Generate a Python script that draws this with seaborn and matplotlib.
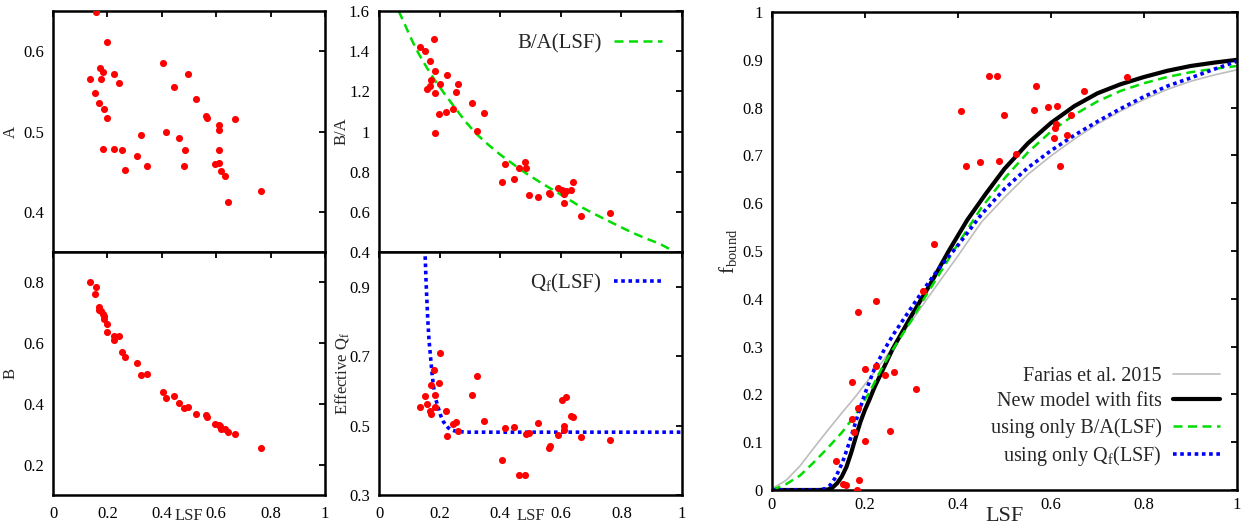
import matplotlib
matplotlib.use("Agg")
import matplotlib.pyplot as plt
import seaborn as sns

# ---------------- data ----------------
# panel A(LSF)
A_lsf = [0.158, 0.199, 0.136, 0.171, 0.185, 0.175, 0.223, 0.244, 0.153, 0.169,
         0.187, 0.200, 0.183, 0.223, 0.255, 0.264, 0.308, 0.325, 0.347, 0.405,
         0.417, 0.445, 0.498, 0.465, 0.487, 0.482, 0.525, 0.563, 0.567, 0.611,
         0.610, 0.609, 0.670, 0.595, 0.609, 0.618, 0.634, 0.643, 0.764]
A_val = [0.649, 0.612, 0.565, 0.579, 0.574, 0.565, 0.572, 0.560, 0.548, 0.536,
         0.528, 0.517, 0.478, 0.478, 0.477, 0.452, 0.469, 0.496, 0.457, 0.585,
         0.499, 0.556, 0.571, 0.492, 0.477, 0.457, 0.541, 0.519, 0.517, 0.508,
         0.502, 0.477, 0.516, 0.459, 0.461, 0.451, 0.445, 0.412, 0.426]

# panel B(LSF)
B_lsf = [0.135, 0.158, 0.153, 0.169, 0.169, 0.178, 0.184, 0.187, 0.189, 0.199,
         0.200, 0.223, 0.225, 0.243, 0.254, 0.264, 0.307, 0.324, 0.347, 0.405,
         0.417, 0.445, 0.465, 0.482, 0.497, 0.525, 0.564, 0.567, 0.595, 0.609,
         0.613, 0.618, 0.634, 0.643, 0.670, 0.764]
B_val = [0.801, 0.784, 0.763, 0.720, 0.709, 0.705, 0.696, 0.689, 0.681, 0.663,
         0.637, 0.624, 0.610, 0.623, 0.570, 0.555, 0.534, 0.496, 0.499, 0.440,
         0.419, 0.425, 0.403, 0.388, 0.391, 0.366, 0.362, 0.356, 0.333, 0.331,
         0.326, 0.316, 0.318, 0.309, 0.302, 0.255]

# panel B/A(LSF)
BA_lsf = [0.135, 0.152, 0.181, 0.169, 0.185, 0.173, 0.168, 0.157, 0.184, 0.200,
          0.223, 0.261, 0.254, 0.197, 0.222, 0.243, 0.184, 0.308, 0.345, 0.323,
          0.405, 0.415, 0.444, 0.463, 0.482, 0.485, 0.496, 0.525, 0.561, 0.564,
          0.591, 0.605, 0.609, 0.616, 0.609, 0.633, 0.639, 0.667, 0.763]
BA_val = [1.423, 1.399, 1.463, 1.352, 1.300, 1.257, 1.227, 1.212, 1.193, 1.237,
          1.282, 1.235, 1.198, 1.085, 1.095, 1.113, 0.994, 1.141, 1.093, 1.001,
          0.750, 0.838, 0.765, 0.820, 0.847, 0.817, 0.683, 0.673, 0.696, 0.688,
          0.721, 0.710, 0.688, 0.705, 0.646, 0.711, 0.748, 0.577, 0.594]
BA_fit_lsf = [0.065, 0.08, 0.095, 0.11, 0.13, 0.155, 0.18, 0.215, 0.25, 0.285,
              0.32, 0.36, 0.40, 0.445, 0.485, 0.53, 0.575, 0.62, 0.66, 0.705,
              0.75, 0.79, 0.835, 0.88, 0.925, 0.965]
BA_fit_val = [1.60, 1.55, 1.50, 1.45, 1.39, 1.325, 1.265, 1.19, 1.12, 1.05,
              0.99, 0.935, 0.885, 0.835, 0.792, 0.749, 0.708, 0.668, 0.63, 0.594,
              0.56, 0.53, 0.497, 0.468, 0.442, 0.41]

# panel effective Q_f(LSF)
Q_lsf = [0.135, 0.152, 0.157, 0.169, 0.171, 0.173, 0.183, 0.185, 0.184, 0.197,
         0.200, 0.222, 0.223, 0.243, 0.254, 0.261, 0.308, 0.323, 0.345, 0.405,
         0.415, 0.444, 0.463, 0.482, 0.485, 0.496, 0.525, 0.561, 0.564, 0.591,
         0.605, 0.616, 0.609, 0.609, 0.633, 0.639, 0.667, 0.763]
Q_val = [0.554, 0.585, 0.562, 0.541, 0.533, 0.617, 0.659, 0.588, 0.554, 0.623,
         0.709, 0.541, 0.469, 0.504, 0.509, 0.484, 0.587, 0.644, 0.513, 0.400,
         0.493, 0.497, 0.358, 0.359, 0.475, 0.478, 0.507, 0.436, 0.442, 0.472,
         0.575, 0.582, 0.498, 0.486, 0.527, 0.526, 0.466, 0.459]
Q_fit_lsf = [0.150, 0.152, 0.156, 0.161, 0.165, 0.171, 0.176, 0.183, 0.188, 0.193,
             0.204, 0.212, 0.220, 0.228, 0.237, 0.248, 0.260, 0.275, 0.290, 1.0]
Q_fit_val = [1.05, 0.996, 0.90, 0.804, 0.747, 0.689, 0.641, 0.593, 0.574, 0.559,
             0.528, 0.512, 0.502, 0.494, 0.488, 0.485, 0.483, 0.482, 0.481, 0.481]

# right panel: f_bound(LSF)
F_lsf = [0.348, 0.407, 0.417, 0.447, 0.466, 0.483, 0.488, 0.499, 0.525, 0.564,
         0.567, 0.594, 0.612, 0.609, 0.611, 0.607, 0.619, 0.634, 0.642, 0.670,
         0.764, 0.137, 0.153, 0.159, 0.171, 0.171, 0.176, 0.186, 0.186, 0.183,
         0.188, 0.199, 0.201, 0.223, 0.224, 0.244, 0.254, 0.263, 0.309, 0.325]
F_val = [0.514, 0.792, 0.678, 0.687, 0.867, 0.867, 0.688, 0.785, 0.703, 0.796,
         0.845, 0.801, 0.803, 0.758, 0.766, 0.736, 0.678, 0.743, 0.784, 0.835,
         0.864, 0.060, 0.012, 0.010, 0.226, 0.149, 0.122, 0.172, 0.372, 0.0,
         0.020, 0.253, 0.103, 0.395, 0.259, 0.241, 0.124, 0.247, 0.211, 0.416]

farias_lsf = [0, 0.03, 0.06, 0.09, 0.12, 0.15, 0.18, 0.21, 0.24, 0.27,
              0.30, 0.33, 0.36, 0.40, 0.45, 0.50, 0.55, 0.60, 0.65, 0.70,
              0.75, 0.80, 0.85, 0.90, 0.95, 1.0]
farias_val = [0.003, 0.02, 0.05, 0.088, 0.125, 0.161, 0.196, 0.234, 0.272, 0.312,
              0.353, 0.395, 0.436, 0.49, 0.56, 0.612, 0.66, 0.699, 0.734, 0.766,
              0.793, 0.817, 0.838, 0.855, 0.868, 0.879]

new_lsf = [0, 0.05, 0.10, 0.12, 0.13, 0.14, 0.15, 0.16, 0.17, 0.18,
           0.19, 0.20, 0.21, 0.22, 0.24, 0.26, 0.30, 0.34, 0.38, 0.42,
           0.46, 0.50, 0.55, 0.60, 0.65, 0.70, 0.75, 0.80, 0.85, 0.90,
           0.95, 1.0]
new_val = [0, 0, 0, 0.001, 0.005, 0.014, 0.028, 0.048, 0.077, 0.11,
           0.142, 0.168, 0.19, 0.214, 0.255, 0.296, 0.365, 0.43, 0.50, 0.565,
           0.62, 0.672, 0.725, 0.768, 0.803, 0.83, 0.849, 0.864, 0.877, 0.887,
           0.894, 0.900]

baonly_lsf = [0, 0.03, 0.06, 0.09, 0.12, 0.15, 0.18, 0.21, 0.24, 0.27,
              0.30, 0.33, 0.36, 0.40, 0.45, 0.50, 0.55, 0.60, 0.65, 0.70,
              0.75, 0.80, 0.85, 0.90, 0.95, 1.0]
baonly_val = [0, 0.012, 0.03, 0.058, 0.088, 0.12, 0.158, 0.205, 0.262, 0.31,
              0.355, 0.405, 0.452, 0.515, 0.59, 0.652, 0.706, 0.75, 0.785, 0.813,
              0.835, 0.851, 0.864, 0.874, 0.881, 0.887]

qonly_lsf = [0, 0.10, 0.115, 0.125, 0.135, 0.145, 0.155, 0.165, 0.175, 0.185,
             0.20, 0.22, 0.24, 0.26, 0.28, 0.30, 0.33, 0.36, 0.40, 0.45,
             0.50, 0.55, 0.60, 0.65, 0.70, 0.75, 0.80, 0.85, 0.90, 0.95, 1.0]
qonly_val = [0, 0, 0.003, 0.01, 0.024, 0.043, 0.067, 0.096, 0.127, 0.158,
             0.202, 0.253, 0.291, 0.324, 0.353, 0.382, 0.425, 0.465, 0.512, 0.576,
             0.63, 0.674, 0.71, 0.742, 0.771, 0.798, 0.823, 0.845, 0.862, 0.88, 0.897]

# ticks
small_xticks = [0, 0.2, 0.4, 0.6, 0.8, 1.0]
small_xticklabels = ["0", "0.2", "0.4", "0.6", "0.8", "1"]
A_ticks = [0.4, 0.5, 0.6]
A_ticklabels = ["0.4", "0.5", "0.6"]
B_ticks = [0.2, 0.4, 0.6, 0.8]
B_ticklabels = ["0.2", "0.4", "0.6", "0.8"]
BA_ticks = [0.4, 0.6, 0.8, 1.0, 1.2, 1.4, 1.6]
BA_ticklabels = ["0.4", "0.6", "0.8", "1", "1.2", "1.4", "1.6"]
Q_ticks = [0.3, 0.5, 0.7, 0.9]
Q_ticklabels = ["0.3", "0.5", "0.7", "0.9"]
F_yticks = [0, 0.1, 0.2, 0.3, 0.4, 0.5, 0.6, 0.7, 0.8, 0.9, 1.0]
F_yticklabels = ["0", "0.1", "0.2", "0.3", "0.4", "0.5", "0.6", "0.7", "0.8", "0.9", "1"]

# ---------------- style ----------------
sns.set_theme(style="white")
plt.rcParams["font.family"] = ["Liberation Serif", "DejaVu Serif"]
plt.rcParams["mathtext.fontset"] = "custom"
plt.rcParams["mathtext.rm"] = "Liberation Serif"
plt.rcParams["mathtext.it"] = "Liberation Serif:italic"
plt.rcParams["mathtext.bf"] = "Liberation Serif:bold"

RED = "#ff0000"
GREEN = "#00dd00"
BLUE = "#0000ff"
GRAY = "#bdbdbd"

W, H = 1259, 526
fig = plt.figure(figsize=(W / 100, H / 100), dpi=100)


def rect(l, t, r, b):
    return [l / W, 1 - b / H, (r - l) / W, (b - t) / H]


axA = fig.add_axes(rect(53, 11, 325, 252))
axB = fig.add_axes(rect(53, 252, 325, 495))
axBA = fig.add_axes(rect(379, 11, 682, 252))
axQ = fig.add_axes(rect(379, 252, 682, 495))
axF = fig.add_axes(rect(772, 12, 1237, 490))


def style(ax, xpad):
    for s in ax.spines.values():
        s.set_linewidth(1.8)
        s.set_color("black")
        s.set_visible(True)
    ax.tick_params(direction="in", length=4, width=1.3, top=True, right=True,
                   labelsize=12, colors="black")
    ax.tick_params(axis="y", pad=6.5)
    ax.tick_params(axis="x", pad=xpad)
    ax.grid(False)


def scatter(ax, x, y):
    sns.scatterplot(x=x, y=y, ax=ax, color=RED, s=26, linewidth=0, zorder=3)


scatter(axA, A_lsf, A_val)
scatter(axB, B_lsf, B_val)
scatter(axBA, BA_lsf, BA_val)
scatter(axQ, Q_lsf, Q_val)
scatter(axF, F_lsf, F_val)

sns.lineplot(x=BA_fit_lsf, y=BA_fit_val, ax=axBA, color=GREEN, lw=1.8,
             linestyle=(0, (3.6, 2.2)), estimator=None, sort=False,
             label="B/A(LSF)", zorder=2)
sns.lineplot(x=Q_fit_lsf, y=Q_fit_val, ax=axQ, color=BLUE, lw=2.6,
             linestyle=(0, (1, 1)), estimator=None, sort=False,
             label=r"Q$_\mathrm{f}$(LSF)", zorder=2)

sns.lineplot(x=farias_lsf, y=farias_val, ax=axF, color=GRAY, lw=1.2,
             estimator=None, sort=False, label="Farias et al. 2015", zorder=2)
sns.lineplot(x=new_lsf, y=new_val, ax=axF, color="black", lw=3.0,
             estimator=None, sort=False, label="New model with fits", zorder=2)
sns.lineplot(x=baonly_lsf, y=baonly_val, ax=axF, color=GREEN, lw=1.8,
             linestyle=(0, (3.6, 2.2)), estimator=None, sort=False,
             label="using only B/A(LSF)", zorder=2)
sns.lineplot(x=qonly_lsf, y=qonly_val, ax=axF, color=BLUE, lw=2.6,
             linestyle=(0, (1, 1)), estimator=None, sort=False,
             label=r"using only Q$_\mathrm{f}$(LSF)", zorder=2)

for ax in (axA, axB, axBA, axQ):
    style(ax, 8)
style(axF, 5)

for ax in (axA, axB, axBA, axQ):
    ax.set_xlim(0, 1)
    ax.set_xticks(small_xticks)
    ax.set_xticklabels(small_xticklabels)

axA.set_ylim(0.35, 0.65)
axA.set_yticks(A_ticks)
axA.set_yticklabels(A_ticklabels)
axB.set_ylim(0.1, 0.9)
axB.set_yticks(B_ticks)
axB.set_yticklabels(B_ticklabels)
axBA.set_ylim(0.4, 1.6)
axBA.set_yticks(BA_ticks)
axBA.set_yticklabels(BA_ticklabels)
axQ.set_ylim(0.3, 1.0)
axQ.set_yticks(Q_ticks)
axQ.set_yticklabels(Q_ticklabels)

axA.tick_params(labelbottom=False)
axBA.tick_params(labelbottom=False)

axF.set_xlim(0, 1)
axF.set_ylim(0, 1)
axF.set_xticks(small_xticks)
axF.set_xticklabels(small_xticklabels)
axF.set_yticks(F_yticks)
axF.set_yticklabels(F_yticklabels)

# labels
axA.set_xlabel("")
axBA.set_xlabel("")
axA.set_ylabel("A", fontsize=12)
axA.yaxis.set_label_coords(-0.125, 0.5)
axB.set_ylabel("B", fontsize=12)
axB.yaxis.set_label_coords(-0.125, 0.5)
axBA.set_ylabel("B/A", fontsize=12)
axBA.yaxis.set_label_coords(-0.097, 0.5)
axQ.set_ylabel(r"Effective Q$_\mathrm{f}$", fontsize=12)
axQ.yaxis.set_label_coords(-0.094, 0.5)
axF.set_ylabel(r"f$_\mathrm{bound}$", fontsize=15)
axF.yaxis.set_label_coords(-0.072, 0.5)

axB.set_xlabel("LSF", fontsize=12)
axB.xaxis.set_label_coords(0.5, -0.055)
axQ.set_xlabel("LSF", fontsize=12)
axQ.xaxis.set_label_coords(0.5, -0.055)
axF.set_xlabel("LSF", fontsize=16)
axF.xaxis.set_label_coords(0.5, -0.036)

# legends (text right-aligned, sample on the right)
legkw = dict(markerfirst=False, frameon=False, borderpad=0, borderaxespad=0,
             handletextpad=0.6, handlelength=2.3)
axBA.legend(loc="upper right", bbox_to_anchor=(0.934, 0.904), fontsize=15, **legkw)
axQ.legend(loc="upper right", bbox_to_anchor=(0.934, 0.917), fontsize=15, **legkw)
axF.legend(loc="lower right", bbox_to_anchor=(0.963, 0.046), fontsize=14.5,
           labelspacing=0.32, **legkw)

fig.savefig("out.png", dpi=100)
